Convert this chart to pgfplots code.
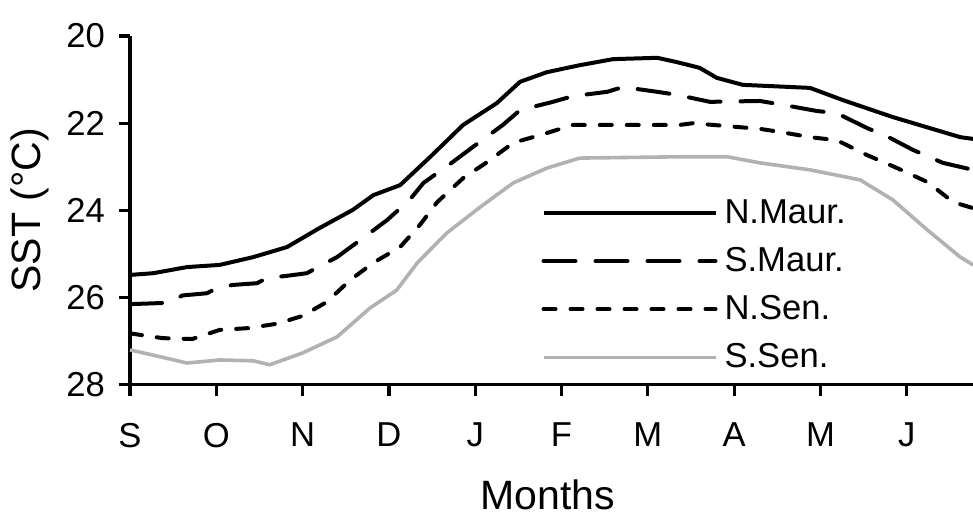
\documentclass[border=0pt]{standalone}
\usepackage{pgfplots}
\pgfplotsset{compat=1.18}
\usepackage{fontspec}
\setmainfont{Liberation Sans}
\newcommand\fs{\fontsize{17.3bp}{20bp}\selectfont}
\newcommand\fl{\fontsize{20.5bp}{24bp}\selectfont}

% Monthly mean SST along the coast (September to June)
\pgfplotstableread{
m     t
0.00  25.48
0.27  25.44
0.66  25.30
1.04  25.25
1.43  25.07
1.82  24.84
2.20  24.40
2.58  23.99
2.82  23.65
3.13  23.42
3.48  22.77
3.86  22.04
4.25  21.54
4.52  21.05
4.83  20.83
5.21  20.67
5.60  20.53
6.11  20.50
6.34  20.60
6.60  20.73
6.80  20.96
7.10  21.12
7.88  21.19
8.26  21.47
8.84  21.86
9.62  22.32
9.77  22.36
}\nmaur
\pgfplotstableread{
m     t
0.00  26.15
0.43  26.12
0.61  25.95
0.89  25.90
1.01  25.78
1.19  25.71
1.47  25.67
1.59  25.55
1.82  25.50
2.05  25.44
2.18  25.30
2.40  25.07
2.75  24.56
2.98  24.22
3.24  23.76
3.40  23.37
3.74  22.89
3.97  22.55
4.32  22.04
4.52  21.70
4.90  21.51
5.13  21.38
5.53  21.28
5.71  21.17
6.11  21.28
6.34  21.35
6.72  21.51
7.30  21.49
7.57  21.58
7.96  21.72
8.19  21.77
8.54  22.11
8.81  22.34
9.07  22.61
9.42  22.91
9.77  23.07
}\smaur
\pgfplotstableread{
m     t
0.00  26.82
0.38  26.93
0.72  26.95
1.04  26.74
1.37  26.70
1.70  26.60
2.00  26.42
2.28  26.10
2.55  25.60
2.82  25.20
3.13  24.84
3.36  24.33
3.56  23.81
3.86  23.26
4.14  22.89
4.44  22.45
4.79  22.25
5.13  22.04
6.37  22.04
6.52  22.00
7.30  22.13
7.53  22.20
7.88  22.32
8.19  22.39
8.54  22.73
8.89  23.03
9.24  23.35
9.54  23.81
9.77  23.95
}\nsen
\pgfplotstableread{
m     t
0.00  27.20
0.27  27.32
0.66  27.50
1.04  27.43
1.43  27.45
1.62  27.54
2.00  27.27
2.40  26.90
2.78  26.24
3.09  25.83
3.33  25.20
3.67  24.52
4.06  23.92
4.44  23.37
4.83  23.03
5.21  22.80
6.37  22.77
6.92  22.77
7.30  22.91
7.88  23.07
8.46  23.30
8.84  23.76
9.24  24.45
9.62  25.07
9.77  25.25
}\ssen

\begin{document}
\begin{tikzpicture}
\begin{axis}[
  name=ax,
  at={(0,0)}, anchor=south west,
  x=43.15bp, y=21.8bp,
  y dir=reverse,
  xmin=0, xmax=9.77,
  ymin=20, ymax=28,
  axis x line=bottom, axis y line=left,
  axis line style={-, line width=1.6bp},
  every tick/.style={black, line width=1.6bp},
  tick align=outside,
  major tick length=5.5bp,
  xtick={0,...,9},
  xticklabels={S,O,N,D,J,F,M,A,M,J},
  ytick={20,22,24,26,28},
  tick label style={font=\fs},
  xticklabel style={yshift=-10bp},
  yticklabel style={xshift=-3.5bp},
  /pgf/number format/assume math mode=true,
  xlabel={Months}, ylabel={SST (°C)},
  xlabel style={font=\fl, at={(axis description cs:0.5,0)}, anchor=base, xshift=-2bp, yshift=-62.5bp},
  ylabel style={font=\fl, at={(axis description cs:0,0.5)}, anchor=center, yshift=50bp},
  clip=false,
  legend style={draw=none, fill=none, font=\fs,
    at={(0.4805,0.552)}, anchor=north west,
    nodes={inner xsep=3.5bp, inner ysep=1.5bp}, row sep=7.5bp},
  legend cell align=left,
  legend image code/.code={\draw[#1] (0bp,0bp) -- (86bp,0bp);},
]
\addplot[black, line width=2bp, line join=round] table {\nmaur};
\addlegendentry{N.Maur.}
\addplot[black, line width=2bp, line cap=round, dash pattern=on 16bp off 10bp] table {\smaur};
\addlegendentry{S.Maur.}
\addplot[black, line width=2bp, line cap=round, dash pattern=on 6bp off 7.5bp] table {\nsen};
\addlegendentry{N.Sen.}
\addplot[black!30, line width=1.8bp] table {\ssen};
\addlegendentry{S.Sen.}
\end{axis}
\pgfresetboundingbox
\path[use as bounding box] (-65bp,-66bp) rectangle (421.5bp,192.4bp);
\end{tikzpicture}
\end{document}
